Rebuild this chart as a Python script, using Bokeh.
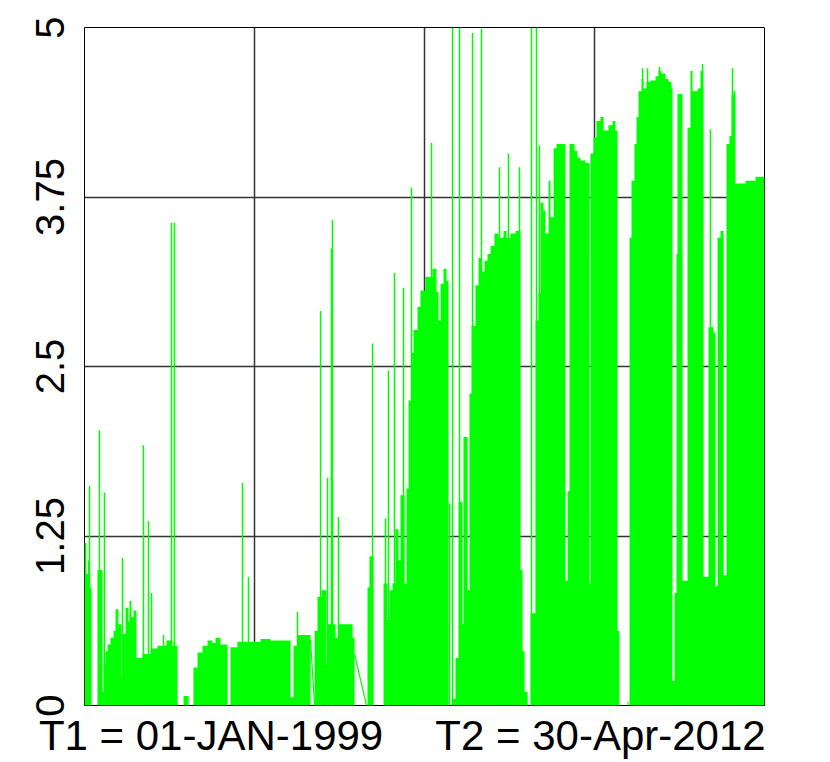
from bokeh.plotting import figure
from bokeh.models import Range1d, FixedTicker
from bokeh.embed import file_html
from bokeh.resources import INLINE

# ---- data (days since T1 = 01-JAN-1999; T2 = 30-Apr-2012 is day 4868) ----
span_days = 4868

# upper envelope of the dense daily series (step, value holds until next day)
env_day = [0, 14, 25, 36, 50, 93, 129, 136, 150, 165, 186, 208, 222, 243, 265, 272,
           294, 315, 322, 336, 351, 372, 415, 473, 523, 587, 630, 666, 709, 745,
           780, 809, 845, 881, 916, 938, 974, 1024, 1045, 1095, 1260, 1332, 1475,
           1496, 1525, 1618, 1647, 1668, 1697, 1732, 1740, 1797, 1818, 1919, 1933,
           2026, 2040, 2069, 2141, 2169, 2184, 2205, 2226, 2248, 2262, 2291, 2305,
           2320, 2341, 2355, 2384, 2405, 2441, 2491, 2520, 2534, 2549, 2570, 2592,
           2606, 2635, 2656, 2678, 2706, 2713, 2742, 2756, 2771, 2799, 2821, 2842,
           2864, 2885, 2907, 2935, 2964, 3000, 3021, 3050, 3086, 3121, 3136, 3150,
           3172, 3193, 3229, 3250, 3265, 3286, 3300, 3322, 3336, 3358, 3379, 3408,
           3443, 3458, 3472, 3508, 3529, 3551, 3587, 3615, 3622, 3644, 3665, 3694,
           3716, 3751, 3780, 3801, 3816, 3830, 3887, 3895, 3902, 3916, 3937, 3952,
           3966, 3988, 4002, 4023, 4052, 4088, 4109, 4131, 4159, 4181, 4202, 4209,
           4224, 4238, 4245, 4281, 4317, 4338, 4353, 4389, 4410, 4431, 4467, 4503,
           4517, 4532, 4553, 4575, 4596, 4617, 4632, 4646, 4660, 4732, 4804, 4868]
env_val = [1.2, 0.97, 1.07, 0.87, 0.0, 1.0, 0.1, 0.31, 0.4, 0.45, 0.5, 0.55, 0.71, 0.6, 0.2, 0.53,
           0.72, 0.62, 0.77, 0.65, 0.7, 0.35, 0.38, 0.42, 0.44, 0.48, 0.44, 0.0, 0.07, 0.0,
           0.28, 0.39, 0.44, 0.48, 0.46, 0.5, 0.45, 0.0, 0.43, 0.47, 0.49, 0.48, 0.06,
           0.44, 0.52, 0.0, 0.55, 0.8, 0.85, 0.3, 0.6, 0.5, 0.6, 0.5, 0.0,
           0.87, 1.1, 0.0, 0.9, 0.63, 0.85, 0.9, 1.3, 1.07, 1.55, 0.9, 1.6,
           2.25, 2.6, 2.77, 2.94, 3.06, 3.16, 3.22, 3.05, 2.84, 3.11, 3.22, 3.13,
           0.0, 0.05, 0.35, 1.5, 0.6, 1.98, 0.85, 2.3, 2.8, 3.1, 3.3, 3.2,
           3.28, 3.33, 3.39, 3.48, 3.45, 3.5, 3.45, 3.48, 3.5, 1.0, 0.4, 0.1,
           0.0, 0.68, 2.84, 3.04, 3.71, 3.65, 3.48, 3.87, 3.6, 4.11, 4.14, 4.14,
           0.92, 1.58, 4.14, 4.09, 4.04, 4.02, 4.0, 0.9, 4.07, 4.19, 4.31, 4.34,
           4.24, 4.28, 4.31, 4.24, 0.55, 0.0, 0.03, 0.0, 3.45, 3.87, 4.14, 4.34,
           4.53, 4.62, 4.55, 4.6, 4.61, 4.64, 4.68, 4.66, 4.62, 4.6, 4.55, 0.18,
           0.83, 3.33, 4.51, 0.92, 4.26, 4.68, 4.53, 4.55, 4.68, 0.95, 2.79, 2.75,
           0.88, 3.45, 3.5, 0.96, 4.14, 4.2, 4.5, 4.53, 3.85, 3.87, 3.9, 3.88]

# isolated single-day spikes
spike_day = [36, 107, 143, 272, 422, 458, 480, 566, 623, 644, 1131, 1174, 1525, 1690,
             1740, 1768, 1775, 1818, 2062, 2155, 2176, 2219, 2284, 2341, 2484, 2613,
             2635, 2685, 2778, 2842, 2971, 3035, 3114, 3200, 3236, 3257, 3995, 4031,
             4116, 4424, 4481, 4639]
spike_val = [1.62, 2.03, 1.57, 1.09, 1.92, 1.36, 0.83, 0.52, 3.56, 3.56, 1.64, 0.95, 0.69, 2.91,
             1.68, 3.37, 3.58, 1.39, 2.67, 1.38, 2.47, 3.19, 3.08, 3.82, 4.15, 1.49,
             5.0, 5.0, 4.96, 4.99, 3.97, 4.07, 3.97, 5.0, 5.0, 4.13, 4.7, 4.7,
             4.71, 4.73, 4.25, 4.7]

# line pieces joining across data gaps
bridge_day0 = [1618, 1933]
bridge_val0 = [0.48, 0.38]
bridge_day1 = [1647, 2019]
bridge_val1 = [0.0, 0.0]

y_ticks = [0, 1.25, 2.5, 3.75, 5]
y_tick_labels = ["0", "1.25", "2.5", "3.75", "5"]
x_labels = ["T1 = 01-JAN-1999", "T2 = 30-Apr-2012"]
x_label_anchor = [906, 3694]   # placement of the two captions (days)

GREEN = "#00ff00"
FONT = "Liberation Sans"

p = figure(width=822, height=762, output_backend="svg", toolbar_location=None,
           x_range=Range1d(0, span_days), y_range=Range1d(0, 5),
           min_border_left=84, min_border_right=58, min_border_top=27,
           min_border_bottom=57)

p.varea_step(x=env_day, y1=0, y2=env_val, step_mode="after",
             fill_color=GREEN, fill_alpha=1.0)
p.segment(x0=spike_day, y0=[0] * len(spike_day), x1=spike_day, y1=spike_val,
          line_color=GREEN, line_width=1.5)
p.segment(x0=bridge_day0, y0=bridge_val0, x1=bridge_day1, y1=bridge_val1,
          line_color=GREEN, line_width=1.2)

# frame / grid
p.outline_line_color = "black"
p.outline_line_width = 1
p.background_fill_color = "white"
p.border_fill_color = "white"

p.yaxis.ticker = FixedTicker(ticks=y_ticks)
p.yaxis.major_label_overrides = dict(zip(y_ticks, y_tick_labels))
p.yaxis.major_label_orientation = "vertical"
p.yaxis.major_label_text_font = FONT
p.yaxis.major_label_text_font_size = "40px"
p.yaxis.major_label_text_color = "black"
p.yaxis.major_label_standoff = 15

p.xaxis.ticker = FixedTicker(ticks=x_label_anchor)
p.xaxis.major_label_overrides = dict(zip(x_label_anchor, x_labels))
p.xaxis.major_label_text_font = FONT
p.xaxis.major_label_text_font_size = "42px"
p.xaxis.major_label_text_color = "black"
p.xaxis.major_label_standoff = 0

for ax in (p.xaxis, p.yaxis):
    ax.axis_line_color = None
    ax.major_tick_line_color = None
    ax.minor_tick_line_color = None

p.xgrid.ticker = FixedTicker(ticks=[span_days * f for f in (0.25, 0.5, 0.75)])
p.ygrid.ticker = FixedTicker(ticks=y_ticks)
for g in (p.xgrid, p.ygrid):
    g.grid_line_color = "#333333"
    g.grid_line_width = 1.5
    g.grid_line_alpha = 1.0

open("out.html", "w").write(file_html(p, INLINE))
